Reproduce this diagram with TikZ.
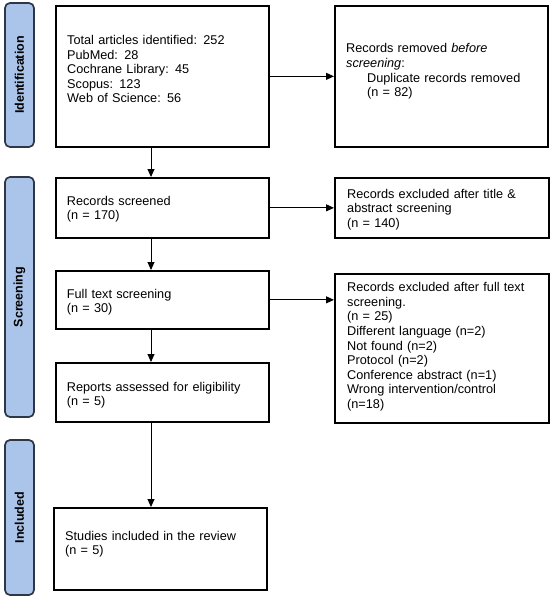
\documentclass[tikz,border=0pt]{standalone}
\usepackage{fontspec}
\setmainfont{Liberation Sans}
\usetikzlibrary{arrows.meta}
\definecolor{phasefill}{RGB}{170,196,234}
\definecolor{phaseline}{RGB}{45,55,70}
\begin{document}
\begin{tikzpicture}[x=1pt,y=-1pt,
  box/.style={draw=black, line width=1.7pt, anchor=north west, inner sep=0pt},
  txt/.style={anchor=base west, inner sep=0pt, align=left, text width=205pt, font=\fontsize{12.7}{14.6}\selectfont},
  phase/.style={draw=phaseline, fill=phasefill, line width=1.7pt, rounded corners=5pt, inner sep=0pt, rotate=90, minimum height=29pt, font=\fontsize{12.5}{14}\selectfont\bfseries},
  arr/.style={line width=0.9pt, -{Triangle[length=8pt,width=7pt]}}]
\useasboundingbox (0,0) rectangle (550,599);
% phase labels
\node[phase, minimum width=144pt] (p1) at (19.5,75) {Identification};
\node[phase, minimum width=240pt] (p2) at (19.5,297) {Screening};
\node[phase, minimum width=155pt] (p3) at (19.5,517.5) {Included};
% boxes
\node[box, minimum width=213pt, minimum height=141pt] (b1) at (55,5) {};
\node[box, minimum width=213pt, minimum height=141pt] (b2) at (334,5) {};
\node[box, minimum width=213pt, minimum height=60pt] (b3) at (55,177) {};
\node[box, minimum width=214pt, minimum height=60pt] (b6) at (334,177) {};
\node[box, minimum width=213pt, minimum height=58pt] (b4) at (55,270) {};
\node[box, minimum width=214pt, minimum height=149pt] (b7) at (334,273) {};
\node[box, minimum width=213pt, minimum height=59pt] (b5) at (55,362) {};
\node[box, minimum width=213pt, minimum height=82pt] (b8) at (53,507) {};
% texts
\node[txt] (t1) at (67,44.5) {Total articles identified: 252\\PubMed: 28\\Cochrane Library: 45\\Scopus: 123\\Web of Science: 56};
\node[txt] (t2) at (346,53) {Records removed \textit{before}\\\textit{screening}:\\\hspace*{21pt}Duplicate records removed\\\hspace*{21pt}(n = 82)};
\node[txt] (t3) at (66.7,205.3) {Records screened\\(n = 170)};
\node[txt] (t4) at (66.7,298.3) {Full text screening\\(n = 30)};
\node[txt] (t5) at (66.7,391) {Reports assessed for eligibility\\(n = 5)};
\node[txt] (t6) at (347,198.3) {Records excluded after title \&\\abstract screening\\(n = 140)};
\node[txt] (t7) at (347,291.7) {Records excluded after full text\\screening.\\(n = 25)\\Different language (n=2)\\Not found (n=2)\\Protocol (n=2)\\Conference abstract (n=1)\\Wrong intervention/control\\(n=18)};
\node[txt] (t8) at (65,540) {Studies included in the review\\(n = 5)};
% connectors
\coordinate (ax) at (151,0);
\draw[arr] (b1.south -| ax) -- (b3.north -| ax);
\draw[arr] (b3.south -| ax) -- (b4.north -| ax);
\draw[arr] (b4.south -| ax) -- (b5.north -| ax);
\draw[arr] (b5.south -| ax) -- (b8.north -| ax);
\draw[arr] (b1.east) -- (b1.east -| b2.west);
\draw[arr] (b3.east) -- (b3.east -| b6.west);
\draw[arr] (b4.east) -- (b4.east -| b7.west);
\end{tikzpicture}
\end{document}
